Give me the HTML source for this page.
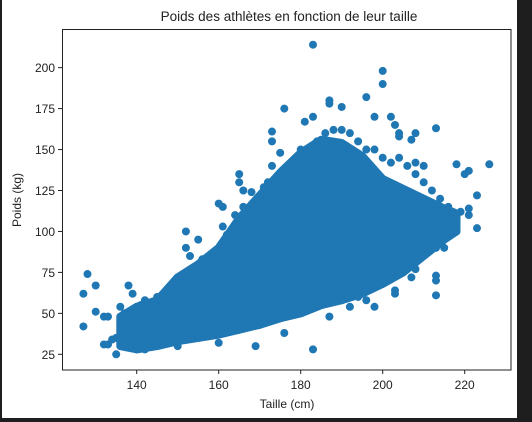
<!DOCTYPE html>
<html><head><meta charset="utf-8"><style>
html,body{margin:0;padding:0;background:#1e1e1e;}
svg{display:block;font-family:"Liberation Sans","DejaVu Sans",sans-serif;}
</style></head><body>
<svg id="chart" width="532" height="422">
<rect x="2" y="0" width="515" height="418" fill="#fff"/>
<text x="289" y="21" font-size="13.5" text-anchor="middle" fill="#222">Poids des athlètes en fonction de leur taille</text>
<g id="marks"></g>
<rect x="62.5" y="29.5" width="448.5" height="340.5" fill="none" stroke="#222" stroke-width="1"/>
<g id="axes"></g>
<text x="287" y="408" font-size="12" text-anchor="middle" fill="#222">Taille (cm)</text>
<text transform="translate(21,200) rotate(-90)" font-size="12" text-anchor="middle" fill="#222">Poids (kg)</text>
</svg>
<script>
const binHeights=[136,140,145,150,155,160,165,170,175,180,185,190,195,200,205,210,215,218];
const binMin=[30,28,30,33,35,37,40,43,47,50,55,58,62,68,75,85,95,100];
const binMax=[48,54,58,72,80,90,108,122,136,148,156,154,146,132,126,120,114,111];
const outHeights=[127,127,128,130,130,132,133,132,133,135,138,139,136,152,152,155,160,161,165,165,166,168,173,173,173,176,175,180,181,183,183,183,187,187,190,196,200,200,198,202,203,204,204,208,207,213,208,210,218,221,220,226,223,223,218,213,215,213,213,213,208,207,203,203,198,196,192,187,176,169,160,150,142,147,
142,145,148,150,153,156,158,161,162,164,166,168,170,171,172,175,177,179,180,182,184,186,188,190,192,194,196,198,200,202,204,206,208,210,212,214,216,219,221,221,210,207,205,202,200,197,194,190,185,180,175,170,165,160,155,150,145,140,137,135,134,137,138,141,144];
const outWeights=[62,42,74,67,51,48,48,31,31,25,67,62,54,100,90,95,117,115,135,130,125,124,161,155,140,175,148,150,167,170,214,28,180,178,176,182,198,190,170,170,165,160,158,160,156,163,142,140,141,137,135,141,122,102,104,90,90,73,70,61,77,72,62,64,54,58,54,48,38,30,32,30,28,33,
58,60,56,72,85,83,80,103,98,110,115,112,115,127,130,135,132,140,148,146,155,160,162,162,160,155,150,150,145,142,145,140,135,130,125,120,115,112,110,114,95,88,80,75,70,65,60,58,55,50,47,43,40,37,35,33,32,28,32,35,34,50,45,55,57];
const xTicks=[140,160,180,200,220];
const yTicks=[25,50,75,100,125,150,175,200];
const X=v=>136.7+(v-140)*4.1;
const Y=v=>354.3-(v-25)*1.638;
const NS="http://www.w3.org/2000/svg";
const C="#1f77b4";
const marks=document.getElementById('marks');
let pts=binHeights.map((h,i)=>X(h)+','+Y(binMax[i]));
for(let i=binHeights.length-1;i>=0;i--)pts.push(X(binHeights[i])+','+Y(binMin[i]));
const poly=document.createElementNS(NS,'polygon');
poly.setAttribute('points',pts.join(' '));
poly.setAttribute('fill',C);poly.setAttribute('stroke',C);
poly.setAttribute('stroke-width','8');poly.setAttribute('stroke-linejoin','round');


marks.appendChild(poly);
outHeights.forEach((h,i)=>{
 const c=document.createElementNS(NS,'circle');
 c.setAttribute('cx',X(h));c.setAttribute('cy',Y(outWeights[i]));c.setAttribute('r',4);c.setAttribute('fill',C);
 
 
 marks.appendChild(c);
});
const axes=document.getElementById('axes');
xTicks.forEach(v=>{
 const l=document.createElementNS(NS,'line');
 l.setAttribute('x1',X(v));l.setAttribute('x2',X(v));l.setAttribute('y1',370);l.setAttribute('y2',374);l.setAttribute('stroke','#222');
 
 
 axes.appendChild(l);
 const t=document.createElementNS(NS,'text');
 t.setAttribute('x',X(v));t.setAttribute('y',389);t.setAttribute('font-size','12');t.setAttribute('text-anchor','middle');t.setAttribute('fill','#222');
 t.textContent=v;
 
 
 axes.appendChild(t);
});
yTicks.forEach(v=>{
 const l=document.createElementNS(NS,'line');
 l.setAttribute('x1',58);l.setAttribute('x2',62.5);l.setAttribute('y1',Y(v));l.setAttribute('y2',Y(v));l.setAttribute('stroke','#222');
 
 
 axes.appendChild(l);
 const t=document.createElementNS(NS,'text');
 t.setAttribute('x',55);t.setAttribute('y',Y(v)+4.5);t.setAttribute('font-size','12');t.setAttribute('text-anchor','end');t.setAttribute('fill','#222');
 t.textContent=v;
 
 
 axes.appendChild(t);
});
</script>
</body></html>
